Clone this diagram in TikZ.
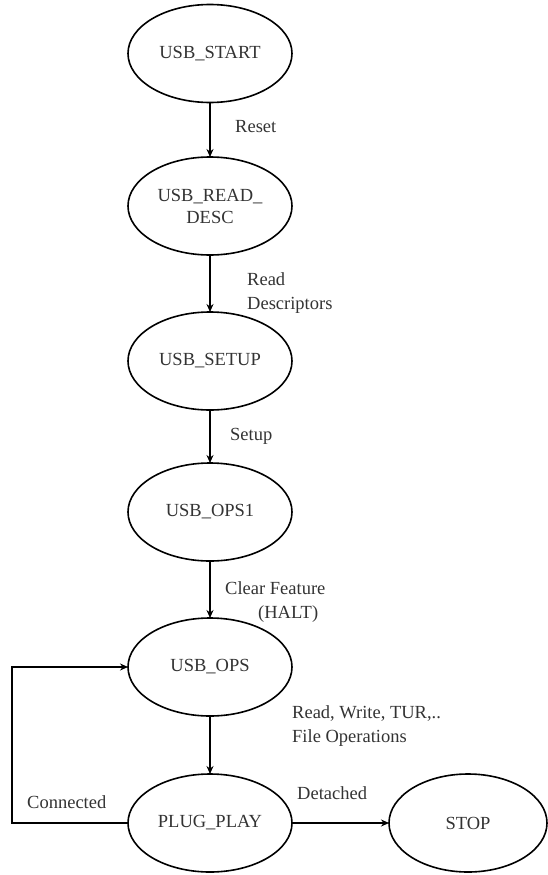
\documentclass[tikz,border=0pt]{standalone}
\usepackage{fontspec}
\setmainfont{Liberation Serif}
\usetikzlibrary{arrows.meta,shapes.geometric}
\begin{document}
\begin{tikzpicture}[x=1pt,y=1pt,
  state/.style={draw, ellipse, line width=1.6pt, inner sep=0pt, outer sep=0pt,
    minimum width=164pt, minimum height=98pt, align=center,
    font=\fontsize{18.5}{22}\selectfont, text=black!80},
  lbl/.style={font=\fontsize{18.5}{24}\selectfont, text=black!80,
    inner sep=0pt, align=left},
  flow/.style={line width=1.6pt, -{Stealth[length=8pt,width=7pt]}}]
\useasboundingbox (0,0) rectangle (547,-875);

% states of the USB host state machine
\node[state] (start) at (210,-53.5) {USB\_START};
\node[state] (desc)  at (210,-206)  {USB\_READ\_\\DESC};
\node[state] (setup) at (210,-361)  {USB\_SETUP};
\node[state] (ops1)  at (210,-512)  {USB\_OPS1};
\node[state] (ops)   at (210,-667)  {USB\_OPS};
\node[state] (plug)  at (210,-823)  {PLUG\_PLAY};
\node[state, minimum width=158pt] (stop) at (468,-823) {STOP};

% transitions
\draw[flow] (start) -- (desc);
\draw[flow] (desc)  -- (setup);
\draw[flow] (setup) -- (ops1);
\draw[flow] (ops1)  -- (ops);
\draw[flow] (ops)   -- (plug);
\draw[flow] (plug.east) -- (stop.west);
\draw[flow] (plug.west) -- ++(-116,0) |- (ops.west);

% transition labels
\node[lbl, anchor=mid west] (lreset) at (235,-130) {Reset};
\node[lbl, anchor=west] (lread) at (247,-293) {Read\\Descriptors};
\node[lbl, anchor=mid west] (lsetup) at (230,-438) {Setup};
\node[lbl, anchor=west] (lclear) at (225,-602) {Clear Feature\\\hspace*{33pt}(HALT)};
\node[lbl, anchor=west] (lfile) at (292,-726) {Read, Write, TUR,..\\File Operations};
\node[lbl, anchor=mid west] (lconn) at (27,-806) {Connected};
\node[lbl, anchor=mid west] (ldet) at (297,-797) {Detached};
\end{tikzpicture}
\end{document}
